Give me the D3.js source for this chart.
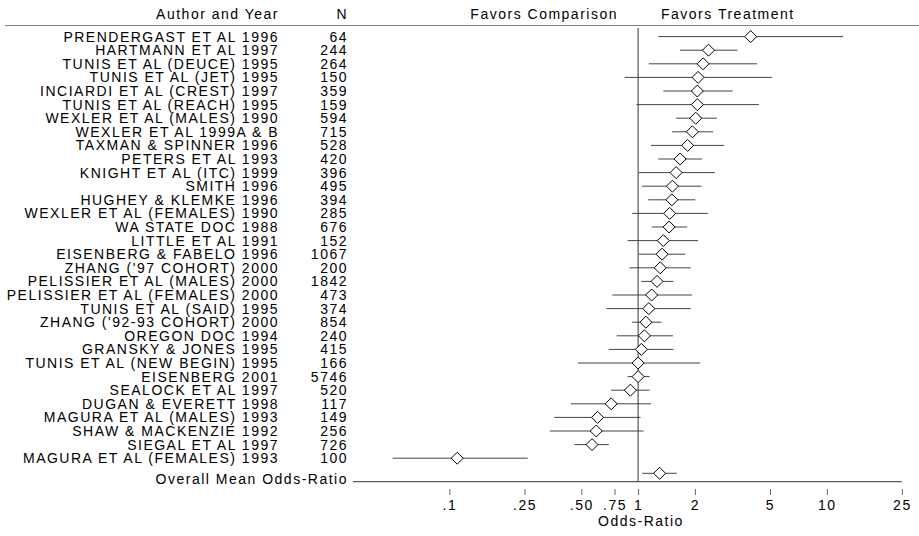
<!DOCTYPE html>
<html>
<head>
<meta charset="utf-8">
<script src="https://cdn.jsdelivr.net/npm/d3@7"></script>
<style>
  body { margin: 0; background: #fff; }
  #myPlot { width: 919px; height: 536px; }
  text { font-family: "Liberation Sans", Arial, sans-serif; font-size: 14px; fill: #000; letter-spacing: 1.5px; }
</style>
</head>
<body>
<div id="myPlot"></div>
<script>
// Study labels and sample sizes
const studies = [
  "PRENDERGAST ET AL 1996", "HARTMANN ET AL 1997", "TUNIS ET AL (DEUCE) 1995",
  "TUNIS ET AL (JET) 1995", "INCIARDI ET AL (CREST) 1997", "TUNIS ET AL (REACH) 1995",
  "WEXLER ET AL (MALES) 1990", "WEXLER ET AL 1999A & B", "TAXMAN & SPINNER 1996",
  "PETERS ET AL 1993", "KNIGHT ET AL (ITC) 1999", "SMITH 1996",
  "HUGHEY & KLEMKE 1996", "WEXLER ET AL (FEMALES) 1990", "WA STATE DOC 1988",
  "LITTLE ET AL 1991", "EISENBERG & FABELO 1996", "ZHANG ('97 COHORT) 2000",
  "PELISSIER ET AL (MALES) 2000", "PELISSIER ET AL (FEMALES) 2000", "TUNIS ET AL (SAID) 1995",
  "ZHANG ('92-93 COHORT) 2000", "OREGON DOC 1994", "GRANSKY & JONES 1995",
  "TUNIS ET AL (NEW BEGIN) 1995", "EISENBERG 2001", "SEALOCK ET AL 1997",
  "DUGAN & EVERETT 1998", "MAGURA ET AL (MALES) 1993", "SHAW & MACKENZIE 1992",
  "SIEGAL ET AL 1997", "MAGURA ET AL (FEMALES) 1993"
];
const sampleN = [64, 244, 264, 150, 359, 159, 594, 715, 528, 420, 396, 495, 394, 285, 676,
  152, 1067, 200, 1842, 473, 374, 854, 240, 415, 166, 5746, 520, 117, 149, 256, 726, 100];

// Odds-ratios with lower / upper bounds
const oddsRatio = [3.95, 2.36, 2.21, 2.08, 2.06, 2.06, 2.02, 1.94, 1.83, 1.67, 1.59, 1.52,
  1.51, 1.47, 1.46, 1.36, 1.34, 1.31, 1.26, 1.18, 1.14, 1.10, 1.08, 1.04, 1.00, 1.00,
  0.91, 0.72, 0.61, 0.60, 0.57, 0.11];
const lowerCI = [1.28, 1.67, 1.14, 0.85, 1.36, 0.98, 1.59, 1.51, 1.17, 1.28, 1.01, 1.05,
  1.13, 0.93, 1.18, 0.88, 1.01, 0.90, 1.04, 0.73, 0.68, 0.93, 0.77, 0.70, 0.48, 0.88,
  0.72, 0.44, 0.36, 0.34, 0.46, 0.05];
const upperCI = [12.2, 3.36, 4.27, 5.12, 3.17, 4.36, 2.61, 2.50, 2.85, 2.18, 2.55, 2.17,
  2.01, 2.34, 1.82, 2.08, 1.78, 1.90, 1.54, 1.93, 1.90, 1.33, 1.53, 1.54, 2.13, 1.15,
  1.15, 1.17, 1.03, 1.07, 0.70, 0.26];

// Overall mean
const overallLabel = "Overall Mean Odds-Ratio";
const overall = [1.30, 1.05, 1.60];

// Axis ticks
const tickValues = [0.1, 0.25, 0.5, 0.75, 1, 2, 5, 10, 25];
const tickLabels = [".1", ".25", ".50", ".75", "1", "2", "5", "10", "25"];

const xSize = 919;
const ySize = 536;

var data = [];
for (var i = 0; i < studies.length; i++) {
  data.push({ i: i, name: studies[i], n: sampleN[i], or: oddsRatio[i], lo: lowerCI[i], hi: upperCI[i] });
}

const svg = d3.select("#myPlot")
  .append("svg")
  .attr("width", xSize)
  .attr("height", ySize);

// Scales
const x = d3.scaleLog()
  .domain([0.1, 10])
  .range([449.4, 826.8]);

const y = d3.scaleLinear()
  .domain([0, studies.length - 1])
  .range([36.6, 458.2]);

const overallY = 473.3;
const axisY = 481.7;
const labelX = 279;
const nX = 348;

// Header
svg.append("text").attr("x", labelX).attr("y", 19).attr("text-anchor", "end").text("Author and Year");
svg.append("text").attr("x", nX).attr("y", 19).attr("text-anchor", "end").text("N");
svg.append("text").attr("x", 618).attr("y", 19).attr("text-anchor", "end").text("Favors Comparison");
svg.append("text").attr("x", 661).attr("y", 19).text("Favors Treatment");

svg.append("line")
  .attr("x1", 5).attr("x2", xSize)
  .attr("y1", 25.5).attr("y2", 25.5)
  .style("stroke", "#808080")
  .style("stroke-width", 1.2);

// Study labels
svg.append("g")
  .selectAll("text")
  .data(data).enter()
  .append("text")
  .attr("x", labelX)
  .attr("y", function (d) { return y(d.i) })
  .attr("dy", "0.36em")
  .attr("text-anchor", "end")
  .text(function (d) { return d.name });

svg.append("g")
  .selectAll("text")
  .data(data).enter()
  .append("text")
  .attr("x", nX)
  .attr("y", function (d) { return y(d.i) })
  .attr("dy", "0.36em")
  .attr("text-anchor", "end")
  .text(function (d) { return d.n });

svg.append("text")
  .attr("x", nX).attr("y", overallY + 6)
  .attr("dy", "0.36em")
  .attr("text-anchor", "end")
  .text(overallLabel);

// Reference line at OR = 1
svg.append("line")
  .attr("x1", x(1)).attr("x2", x(1))
  .attr("y1", 28).attr("y2", axisY)
  .style("stroke", "#333");

// Bottom axis line
svg.append("line")
  .attr("x1", 353).attr("x2", 902)
  .attr("y1", axisY).attr("y2", axisY)
  .style("stroke", "#333");

// Confidence intervals
svg.append("g")
  .selectAll("line")
  .data(data).enter()
  .append("line")
  .attr("x1", function (d) { return x(d.lo) })
  .attr("x2", function (d) { return x(d.hi) })
  .attr("y1", function (d) { return y(d.i) })
  .attr("y2", function (d) { return y(d.i) })
  .style("stroke", "#444");

svg.append("line")
  .attr("x1", x(overall[1])).attr("x2", x(overall[2]))
  .attr("y1", overallY).attr("y2", overallY)
  .style("stroke", "#444");

// Diamonds
const diamond = "M0,-6L6,0L0,6L-6,0Z";
svg.append("g")
  .selectAll("path")
  .data(data).enter()
  .append("path")
  .attr("d", diamond)
  .attr("transform", function (d) { return "translate(" + x(d.or) + "," + y(d.i) + ")" })
  .style("fill", "#fff")
  .style("stroke", "#000");

svg.append("path")
  .attr("d", diamond)
  .attr("transform", "translate(" + x(overall[0]) + "," + overallY + ")")
  .style("fill", "#fff")
  .style("stroke", "#000");

// X axis (ticks only)
const xAxis = svg.append("g")
  .attr("transform", "translate(0,489)")
  .call(d3.axisBottom(x)
    .tickValues(tickValues)
    .tickFormat(function (d, i) { return tickLabels[i] })
    .tickSize(6)
    .tickPadding(5));
xAxis.select(".domain").remove();
xAxis.selectAll(".tick line").style("stroke", "#666");
xAxis.selectAll(".tick text")
  .attr("font-family", null).attr("font-size", null)
  .style("font-size", "14px");

svg.append("text")
  .attr("x", 641).attr("y", 526)
  .attr("text-anchor", "middle")
  .text("Odds-Ratio");
</script>
</body>
</html>
